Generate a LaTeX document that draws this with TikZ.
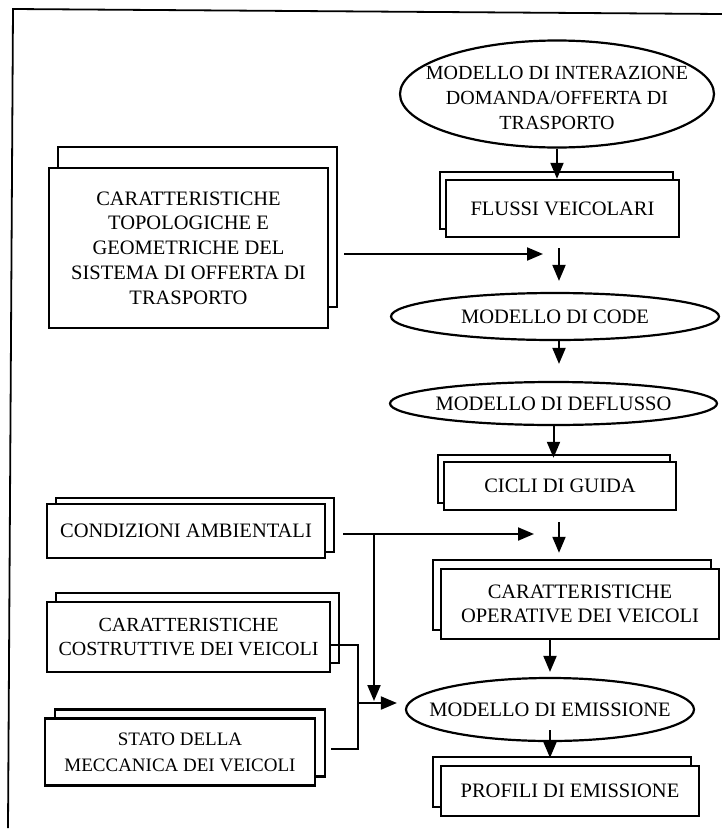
\documentclass[tikz,border=0pt]{standalone}
\usepackage{fontspec}
\setmainfont{Liberation Serif}
\usetikzlibrary{arrows.meta,shapes.geometric,shadows,calc}
\begin{document}
\begin{tikzpicture}[x=1pt,y=-1pt,
  lbl/.style={font=\fontsize{20.5}{24.7}\selectfont, align=center, inner sep=0pt},
  box/.style={lbl, rectangle, draw, line width=2.4pt, fill=white},
  sh/.style 2 args={copy shadow={shadow xshift=#1pt, shadow yshift=#2pt, draw, fill=white, line width=2.4pt, opacity=1}},
  oval/.style={ellipse, draw, line width=2.2pt, fill=white, inner sep=0pt},
  ln/.style={line width=2pt},
  arr/.style={ln, -{Triangle[length=16pt,width=13pt]}}]
\fill[white] (0,0) rectangle (722,833);
\useasboundingbox (0,0) rectangle (722,833);
% frame
\draw[line width=1.8pt] (8,828) -- (13,9) -- (722,14);
% right column
\node[oval, minimum width=314pt, minimum height=107pt,
  label={[lbl, yshift=-4pt, font=\fontsize{20}{24.7}\selectfont]center:MODELLO DI INTERAZIONE\\DOMANDA/OFFERTA DI\\TRASPORTO}] (inter) at (557,94) {};
\node[box, sh={-6}{8}, minimum width=233pt, minimum height=57pt] (flussi) at (562.5,208.5) {FLUSSI VEICOLARI};
\node[oval, minimum width=328pt, minimum height=47pt,
  label={[lbl]center:MODELLO DI CODE}] (code) at (555,316.5) {};
\node[oval, minimum width=327pt, minimum height=43pt,
  label={[lbl]center:MODELLO DI DEFLUSSO}] (defl) at (553.5,403.5) {};
\node[box, sh={-6}{7}, minimum width=232pt, minimum height=48pt] (cicli) at (560,486) {CICLI DI GUIDA};
\node[box, sh={-8}{9}, minimum width=278pt, minimum height=70pt] (oper) at (580,604) {CARATTERISTICHE\\OPERATIVE DEI VEICOLI};
\node[oval, minimum width=288pt, minimum height=63pt,
  label={[lbl]center:MODELLO DI EMISSIONE}] (emis) at (550,709.5) {};
\node[box, sh={-8}{9}, minimum width=258pt, minimum height=50pt] (prof) at (570,791) {PROFILI DI EMISSIONE};
% left column
\node[box, sh={9}{21}, minimum width=279pt, minimum height=160pt] (topo) at (188.5,248) {CARATTERISTICHE\\TOPOLOGICHE E\\GEOMETRICHE DEL\\SISTEMA DI OFFERTA DI\\TRASPORTO};
\node[box, sh={9}{6}, minimum width=278pt, minimum height=54pt] (cond) at (186,531) {CONDIZIONI AMBIENTALI};
\node[box, sh={9}{9}, minimum width=283pt, minimum height=70pt, font=\fontsize{20}{24.7}\selectfont] (ccv) at (188.5,637) {CARATTERISTICHE\\COSTRUTTIVE DEI VEICOLI};
\node[box, sh={10}{9}, minimum width=270pt, minimum height=67pt, font=\fontsize{19}{26}\selectfont] (stato) at (180,752) {STATO DELLA\\MECCANICA DEI VEICOLI};
% free points
\coordinate (t1) at (543,254);
\coordinate (c1) at (534,534);
\coordinate (c2) at (374,534);
\coordinate (jv) at (358,703);
% connectors
\draw[arr] (inter.south) -- (inter.south |- flussi.north);
\draw[arr] ([xshift=15pt,yshift=-6pt]topo.east) -- (t1);
\draw[arr, shorten <=10pt, shorten >=11pt] ([xshift=4pt]flussi.south -| code.north) -- ([xshift=4pt]code.north);
\draw[arr, shorten >=17pt] ([xshift=4pt]code.south) -- ([xshift=4pt]code.south |- defl.north);
\draw[arr, shorten >=3pt] (defl.south) -- (defl.south |- cicli.north);
\draw[arr, shorten <=11pt, shorten >=15pt] ([xshift=-1pt]cicli.south) -- ([xshift=-1pt]cicli.south |- oper.north);
\draw[arr, shorten >=5pt] (oper.south -| emis.north) -- (emis.north);
\draw[arr, shorten >=7pt] ([yshift=12pt]emis.south) -- (emis.south |- prof.north);
\draw[arr] ([xshift=17pt,yshift=-3pt]cond.east) -- (c1);
\draw[arr, shorten >=2pt] (c2) -- (c2 |- jv);
\draw[ln] ([yshift=-8pt]ccv.east) -| (jv);
\draw[ln] ([xshift=15pt,yshift=3pt]stato.east) -| (jv);
\draw[arr, shorten >=8pt] (jv) -- (jv -| emis.west);
\end{tikzpicture}
\end{document}
